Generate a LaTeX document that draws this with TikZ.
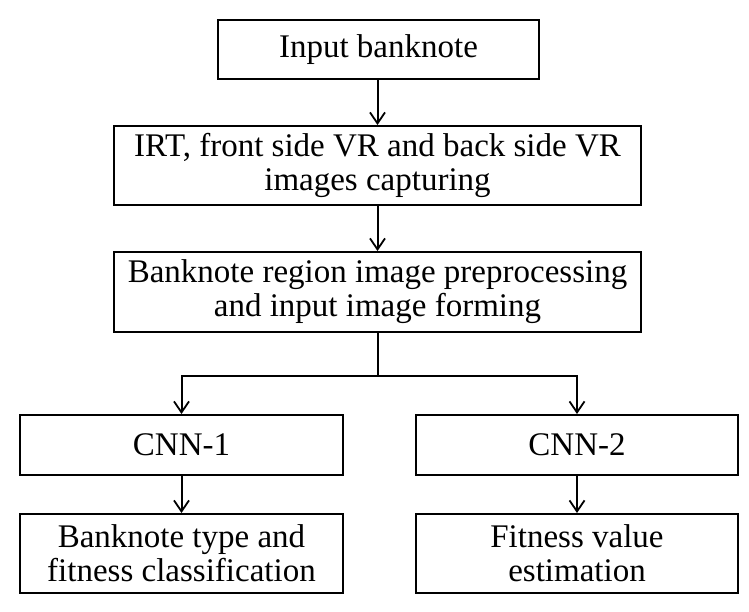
\documentclass[tikz,border=0pt]{standalone}
\usepackage{fontspec}
\setmainfont{Liberation Serif}
\usetikzlibrary{arrows.meta}
\begin{document}
\begin{tikzpicture}[x=1pt,y=-1pt,
  box/.style={draw=black,line width=2pt,rectangle,align=center,inner sep=0pt,
    font=\fontsize{33}{34}\selectfont},
  conn/.style={line width=2pt,-{Straight Barb[length=11pt,width=15pt,line width=1.8pt]}}]
\useasboundingbox[fill=white] (0,0) rectangle (749,612);
\node[box,minimum width=321pt,minimum height=59pt] (b1) at (378.5,49.5) {Input banknote};
\node[box,minimum width=527pt,minimum height=79pt] (b2) at (377.5,165.5) {IRT, front side VR and back side VR\\images capturing};
\node[box,minimum width=527pt,minimum height=80pt] (b3) at (377.5,292) {Banknote region image preprocessing\\and input image forming};
\node[box,minimum width=323pt,minimum height=60pt] (c1) at (181.5,445) {CNN-1};
\node[box,minimum width=322pt,minimum height=60pt] (c2) at (577,445) {CNN-2};
\node[box,minimum width=323pt,minimum height=79pt] (o1) at (181.5,553.5) {Banknote type and\\fitness classification};
\node[box,minimum width=322pt,minimum height=79pt] (o2) at (577,553.5) {Fitness value\\estimation};
\coordinate (split) at (377.5,376);
\draw[conn] (b1.south -| b2.north) -- (b2.north);
\draw[conn] (b2) -- (b3);
\draw[line width=2pt] (b3.south) -- (split);
\draw[conn] (split) -| (c1.north);
\draw[conn] (split) -| (c2.north);
\draw[conn] (c1) -- (o1);
\draw[conn] (c2) -- (o2);
\end{tikzpicture}
\end{document}
